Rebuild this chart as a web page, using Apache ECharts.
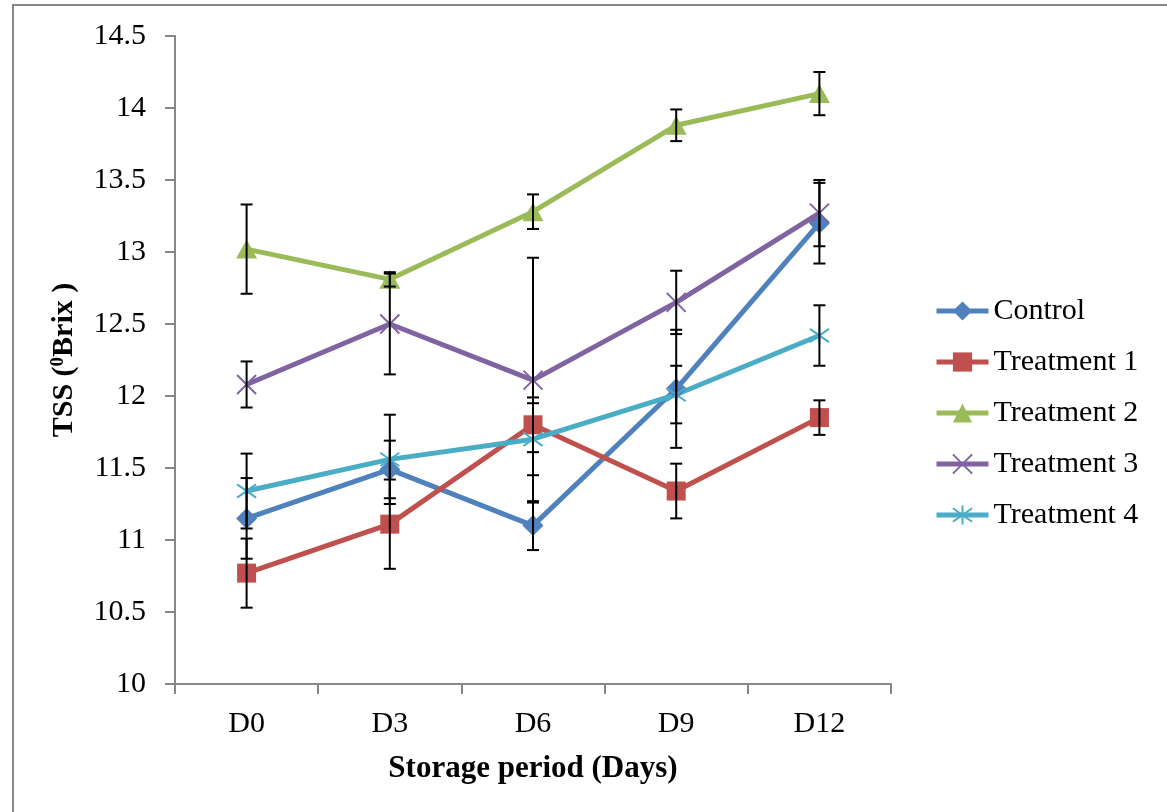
<!DOCTYPE html>
<html>
<head>
<meta charset="utf-8">
<script src="https://cdn.jsdelivr.net/npm/echarts@6/dist/echarts.min.js"></script>
<style>
  html, body { margin: 0; padding: 0; background: #fff; }
  #chart { width: 1167px; height: 812px; }
</style>
</head>
<body>
<div id="chart"></div>
<script>
// storage days
const days = ['D0', 'D3', 'D6', 'D9', 'D12'];
const seriesNames = ['Control', 'Treatment 1', 'Treatment 2', 'Treatment 3', 'Treatment 4'];

// mean TSS values
const control = [11.15, 11.49, 11.10, 12.05, 13.20];
const treat1 = [10.77, 11.11, 11.80, 11.34, 11.85];
const treat2 = [13.02, 12.81, 13.28, 13.88, 14.10];
const treat3 = [12.08, 12.50, 12.11, 12.65, 13.27];
const treat4 = [11.34, 11.56, 11.70, 12.01, 12.42];

// error bar half lengths
const controlErr = [0.28, 0.20, 0.17, 0.41, 0.28];
const treat1Err = [0.24, 0.31, 0.19, 0.19, 0.12];
const treat2Err = [0.31, 0.05, 0.12, 0.11, 0.15];
const treat3Err = [0.16, 0.35, 0.85, 0.22, 0.23];
const treat4Err = [0.26, 0.31, 0.25, 0.20, 0.21];

const colors = ['#4F81BD', '#C0504D', '#9BBB59', '#8064A2', '#4BACC6'];
const symbols = [
  'diamond',
  'rect',
  'triangle',
  'path://M0,0L20,20M20,0L0,20',
  'path://M10,0L10,20M3,3L17,17M17,3L3,17'
];
const allValues = [control, treat1, treat2, treat3, treat4];
const allErrs = [controlErr, treat1Err, treat2Err, treat3Err, treat4Err];

const font = 'Liberation Serif';
const chart = echarts.init(document.getElementById('chart'));

const lineSeries = allValues.map((vals, i) => {
  const stroked = i >= 3;
  return {
    name: seriesNames[i],
    type: 'line',
    data: vals,
    symbol: symbols[i],
    symbolSize: i === 2 ? [21, 19] : (i === 0 ? 21 : 19),
    showAllSymbol: true,
    z: 3,
    lineStyle: { color: colors[i], width: 5 },
    itemStyle: {
      color: colors[i],
      borderColor: colors[i],
      borderWidth: stroked ? 2 : 0
    },
    emphasis: { disabled: true },
    animation: false
  };
});

// error bars drawn as custom series
const errSeries = allValues.map((vals, i) => ({
  type: 'custom',
  name: seriesNames[i] + ' err',
  z: 4,
  data: vals.map((v, k) => [k, v - allErrs[i][k], v + allErrs[i][k]]),
  renderItem: (params, api) => {
    const lo = api.coord([api.value(0), api.value(1)]);
    const hi = api.coord([api.value(0), api.value(2)]);
    const w = 6;
    const style = { stroke: '#000', lineWidth: 2 };
    return {
      type: 'group',
      children: [
        { type: 'line', shape: { x1: lo[0], y1: lo[1], x2: hi[0], y2: hi[1] }, style },
        { type: 'line', shape: { x1: lo[0] - w, y1: lo[1], x2: lo[0] + w, y2: lo[1] }, style },
        { type: 'line', shape: { x1: hi[0] - w, y1: hi[1], x2: hi[0] + w, y2: hi[1] }, style }
      ]
    };
  },
  silent: true,
  animation: false
}));

const option = {
  backgroundColor: '#fff',
  animation: false,
  graphic: [{
    type: 'rect',
    shape: { x: 13, y: 5, width: 1300, height: 1000 },
    style: { fill: 'none', stroke: '#868686', lineWidth: 2 },
    silent: true
  }],
  grid: { left: 175, right: 276, top: 36, bottom: 128 },
  legend: {
    orient: 'vertical',
    left: 929,
    top: 291,
    itemWidth: 52,
    itemHeight: 24,
    itemGap: 21,
    data: seriesNames,
    lineStyle: { width: 5 },
    textStyle: { fontFamily: font, fontSize: 30, color: '#000' },
    selectedMode: false
  },
  xAxis: {
    type: 'category',
    data: days,
    boundaryGap: true,
    name: 'Storage period (Days)',
    nameLocation: 'middle',
    nameGap: 69,
    nameTextStyle: { fontFamily: font, fontSize: 31, fontWeight: 'bold', color: '#000' },
    axisLine: { lineStyle: { color: '#868686', width: 2 } },
    axisTick: { show: true, length: 10, lineStyle: { color: '#868686', width: 2 } },
    axisLabel: { fontFamily: font, fontSize: 30, color: '#000', margin: 25 },
    splitLine: { show: false }
  },
  yAxis: {
    type: 'value',
    min: 10,
    max: 14.5,
    interval: 0.5,
    name: '{t|TSS (}{s|0}{t|Brix )}',
    nameLocation: 'middle',
    nameRotate: 90,
    nameGap: 96,
    nameTextStyle: {
      rich: {
        t: { fontFamily: font, fontSize: 30, fontWeight: 'bold', color: '#000' },
        s: { fontFamily: font, fontSize: 19, fontWeight: 'bold', color: '#000', verticalAlign: 'top', padding: [0, 0, 10, 0] }
      }
    },
    axisLine: { show: true, lineStyle: { color: '#868686', width: 2 } },
    axisTick: { show: true, length: 10, lineStyle: { color: '#868686', width: 2 } },
    axisLabel: {
      fontFamily: font, fontSize: 30, color: '#000', margin: 29,
      formatter: v => String(v)
    },
    splitLine: { show: false }
  },
  series: lineSeries.concat(errSeries)
};

chart.setOption(option);
</script>
</body>
</html>
